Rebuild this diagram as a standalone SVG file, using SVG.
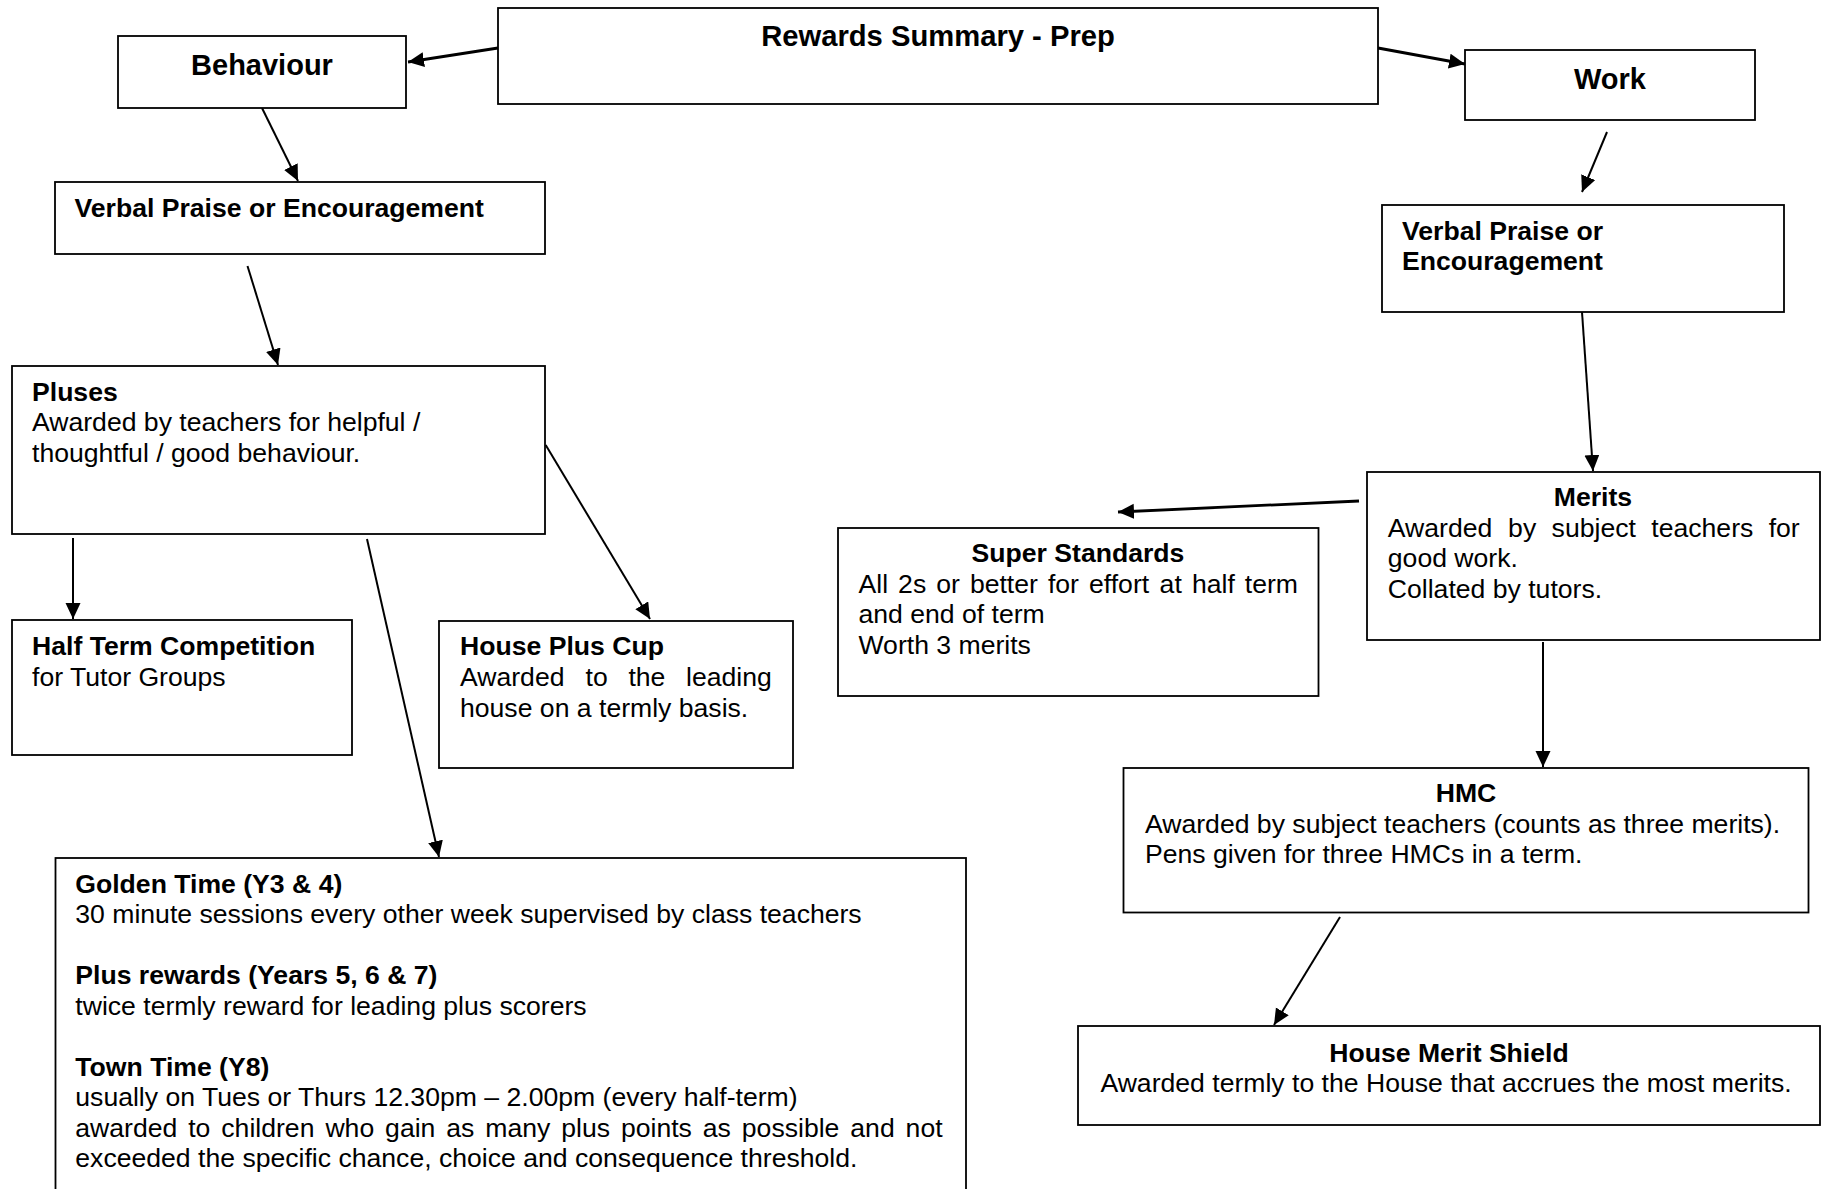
<svg xmlns="http://www.w3.org/2000/svg" width="1826" height="1189" viewBox="0 0 1826 1189">
<style>
.box{fill:#fff;stroke:#000;stroke-width:1.8}
text{font-family:"Liberation Sans",Arial,sans-serif;font-size:26.6px;fill:#000}
.b{font-weight:bold}
.h{font-weight:bold;font-size:29px}
.c{text-anchor:middle}
.ln{stroke:#000;stroke-width:2;fill:none;marker-end:url(#ah)}
.thick{stroke-width:2.8}
</style>
<defs>
<marker id="ah" markerUnits="userSpaceOnUse" markerWidth="17" markerHeight="16" refX="16" refY="7.5" orient="auto" viewBox="0 0 17 16">
<path d="M0,0 L16,7.5 L0,15 Z" fill="#000"/>
</marker>
</defs>
<rect width="1826" height="1189" fill="#fff"/>
<g id="connectors">
<line class="ln thick" x1="498" y1="48" x2="408" y2="62"/>
<line class="ln thick" x1="1378" y1="48" x2="1465" y2="64"/>
<line class="ln" x1="262" y1="108" x2="298" y2="181"/>
<line class="ln" x1="247.5" y1="266" x2="278" y2="365"/>
<line class="ln" x1="1607" y1="132" x2="1582" y2="192"/>
<line class="ln" x1="1582" y1="312" x2="1593" y2="471"/>
<line class="ln" x1="73" y1="538" x2="73" y2="619"/>
<line class="ln" x1="545.7" y1="445" x2="650" y2="619"/>
<line class="ln" x1="367" y1="539" x2="439" y2="857"/>
<line class="ln thick" x1="1359" y1="501" x2="1118" y2="512"/>
<line class="ln" x1="1543" y1="642" x2="1543" y2="767"/>
<line class="ln" x1="1340" y1="917" x2="1274" y2="1025"/>
</g>
<g id="title">
<rect class="box" x="498" y="8" width="880" height="96"/>
<text class="b c" x="938" y="46" style="font-size:29.2px">Rewards Summary - Prep</text>
</g>
<g id="behaviour">
<rect class="box" x="118" y="36" width="288" height="72"/>
<text class="h c" x="262" y="75">Behaviour</text>
</g>
<g id="verbal-behaviour">
<rect class="box" x="55" y="182" width="490" height="72"/>
<text class="b" x="74.5" y="216.5">Verbal Praise or Encouragement</text>
</g>
<g id="work">
<rect class="box" x="1465" y="50" width="290" height="70"/>
<text class="h c" x="1610" y="89">Work</text>
</g>
<g id="verbal-work">
<rect class="box" x="1382" y="205" width="402" height="107"/>
<text class="b" x="1402" y="240">Verbal Praise or</text>
<text class="b" x="1402" y="270">Encouragement</text>
</g>
<g id="pluses">
<rect class="box" x="12" y="366" width="533" height="168"/>
<text class="b" x="32" y="400.5">Pluses</text>
<text x="32" y="431">Awarded by teachers for helpful /</text>
<text x="32" y="461.5">thoughtful / good behaviour.</text>
</g>
<g id="half-term">
<rect class="box" x="12" y="620" width="340" height="135"/>
<text class="b" x="32" y="655">Half Term Competition</text>
<text x="32" y="685.5">for Tutor Groups</text>
</g>
<g id="house-plus-cup">
<rect class="box" x="439" y="621" width="354" height="147"/>
<text class="b" x="460" y="655">House Plus Cup</text>
<text y="686"><tspan x="460">Awarded</tspan><tspan x="585.6">to</tspan><tspan x="628.4">the</tspan><tspan x="686">leading</tspan></text>
<text x="460" y="716.5">house on a termly basis.</text>
</g>
<g id="super-standards">
<rect class="box" x="838" y="528" width="480.5" height="168"/>
<text class="b c" x="1078" y="561.5">Super Standards</text>
<text y="592.5"><tspan x="858.5">All</tspan><tspan x="898.1">2s</tspan><tspan x="936.2">or</tspan><tspan x="969.9">better</tspan><tspan x="1047.9">for</tspan><tspan x="1089">effort</tspan><tspan x="1159.6">at</tspan><tspan x="1191.9">half</tspan><tspan x="1244.8">term</tspan></text>
<text x="858.5" y="623">and end of term</text>
<text x="858.5" y="653.5">Worth 3 merits</text>
</g>
<g id="merits">
<rect class="box" x="1367" y="472" width="453" height="168"/>
<text class="b c" x="1593" y="506">Merits</text>
<text y="536.5"><tspan x="1387.8">Awarded</tspan><tspan x="1508.1">by</tspan><tspan x="1551.6">subject</tspan><tspan x="1651.3">teachers</tspan><tspan x="1768.7">for</tspan></text>
<text x="1387.8" y="567">good work.</text>
<text x="1387.8" y="597.5">Collated by tutors.</text>
</g>
<g id="hmc">
<rect class="box" x="1123.5" y="768" width="685" height="144.5"/>
<text class="b c" x="1466" y="801.5">HMC</text>
<text x="1145" y="832.5">Awarded by subject teachers (counts as three merits).</text>
<text x="1145" y="863">Pens given for three HMCs in a term.</text>
</g>
<g id="house-merit-shield">
<rect class="box" x="1078" y="1026" width="742" height="99"/>
<text class="b c" x="1449" y="1061.5">House Merit Shield</text>
<text class="c" x="1446" y="1092">Awarded termly to the House that accrues the most merits.</text>
</g>
<g id="golden-time">
<rect class="box" x="55.5" y="858" width="910.5" height="340"/>
<text class="b" x="75.3" y="892.5">Golden Time (Y3 &amp; 4)</text>
<text x="75.3" y="923">30 minute sessions every other week supervised by class teachers</text>
<text class="b" x="75.3" y="984">Plus rewards (Years 5, 6 &amp; 7)</text>
<text x="75.3" y="1014.5">twice termly reward for leading plus scorers</text>
<text class="b" x="75.3" y="1075.5">Town Time (Y8)</text>
<text x="75.3" y="1106">usually on Tues or Thurs 12.30pm – 2.00pm (every half-term)</text>
<text y="1136.5"><tspan x="75.3">awarded</tspan><tspan x="188.2">to</tspan><tspan x="221.3">children</tspan><tspan x="325.4">who</tspan><tspan x="385.1">gain</tspan><tspan x="446.3">as</tspan><tspan x="485.3">many</tspan><tspan x="561.2">plus</tspan><tspan x="620.9">points</tspan><tspan x="702.8">as</tspan><tspan x="741.8">possible</tspan><tspan x="850.3">and</tspan><tspan x="905.6">not</tspan></text>
<text x="75.3" y="1167">exceeded the specific chance, choice and consequence threshold.</text>
</g>
</svg>
